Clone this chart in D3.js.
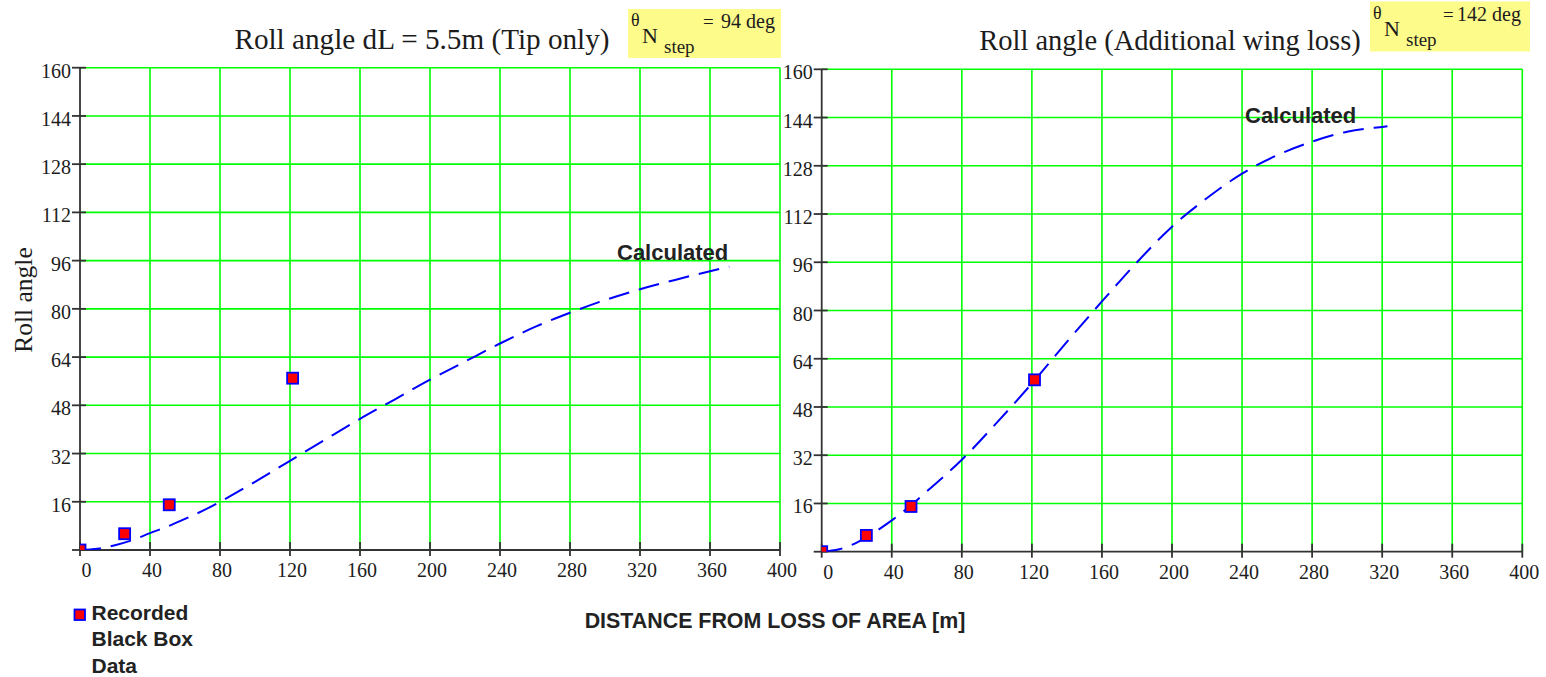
<!DOCTYPE html>
<html>
<head>
<meta charset="utf-8">
<script src="https://cdn.jsdelivr.net/npm/d3@7"></script>
<style>
  html, body { margin: 0; padding: 0; background: #fff; }
  svg { display: block; }
</style>
</head>
<body>
<svg id="chart" width="1546" height="677"></svg>
<script>
// ---------- data ----------
const xTicks = [0, 40, 80, 120, 160, 200, 240, 280, 320, 360, 400];
const yTicks = [16, 32, 48, 64, 80, 96, 112, 128, 144, 160];

// Recorded black box data (distance m, roll angle deg)
const recordedX = [0, 25.5, 51, 121.5];
const recordedY = [0, 5.4, 15, 57];

// Calculated - tip only (dL = 5.5 m)
const tipX = [0, 10, 20, 30, 40, 50, 60, 70, 80, 100, 120, 140, 160, 180, 200, 220, 240, 260, 280, 300, 320, 340, 360, 371];
const tipY = [0, 0.4, 1.6, 3.3, 5.6, 7.8, 10.3, 13, 16, 22.6, 29.6, 36.6, 43.5, 50, 56.5, 62.5, 68.5, 74, 78.7, 82.9, 86.5, 89.6, 92.5, 94];

// Calculated - additional wing loss
const wingX = [0, 10, 20, 30, 40, 51, 60, 80, 100, 120, 140, 160, 180, 200, 220, 240, 260, 280, 300, 320, 323];
const wingY = [0, 0.8, 3, 6.4, 10.4, 15.4, 20, 30.5, 42.8, 55.8, 69.6, 83, 96, 107.8, 117.3, 125.4, 131.5, 136, 139.3, 140.9, 141.1];

const titles = ["Roll angle dL = 5.5m (Tip only)", "Roll angle (Additional wing loss)"];
const thetaValues = ["94 deg", "142 deg"];

// ---------- layout ----------
const svg = d3.select("#chart");
const panels = [
  { x0: 80, x1: 780, y0: 550, y1: 67.7, cx: tipX, cy: tipY, title: titles[0], titleX: 422, titleY: 49,
    box: [628, 9, 153, 49], theta: thetaValues[0], eqX: 703, valX: 721, calcLab: [617, 260] },
  { x0: 821.7, x1: 1522.3, y0: 551.7, y1: 69.3, cx: wingX, cy: wingY, title: titles[1], titleX: 1170, titleY: 50,
    box: [1370, 1.5, 160, 50], theta: thetaValues[1], eqX: 1443, valX: 1457, calcLab: [1245, 123] }
];

const serif = "'Liberation Serif', 'Times New Roman', serif";
const sans = "'Liberation Sans', Arial, sans-serif";
const textCol = "#1c1c1c";

panels.forEach((p, i) => {
  const x = d3.scaleLinear().domain([0, 400]).range([p.x0, p.x1]);
  const y = d3.scaleLinear().domain([0, 160]).range([p.y0, p.y1]);
  const g = svg.append("g");

  const clipId = "clip" + i;
  svg.append("clipPath").attr("id", clipId).append("rect")
    .attr("x", p.x0).attr("y", p.y1).attr("width", p.x1 - p.x0).attr("height", p.y0 - p.y1);

  // grid
  g.selectAll(".vg").data(xTicks.filter(d => d > 0)).join("line")
    .attr("x1", d => x(d)).attr("x2", d => x(d)).attr("y1", p.y0).attr("y2", p.y1)
    .attr("stroke", "#00ff00").attr("stroke-width", 1.6);
  g.selectAll(".hg").data(yTicks).join("line")
    .attr("x1", p.x0).attr("x2", p.x1).attr("y1", d => y(d)).attr("y2", d => y(d))
    .attr("stroke", "#00ff00").attr("stroke-width", 1.6);

  // axes lines
  g.append("line").attr("x1", p.x0).attr("x2", p.x0).attr("y1", p.y1).attr("y2", p.y0)
    .attr("stroke", "#333").attr("stroke-width", 1.8);
  g.append("line").attr("x1", p.x0).attr("x2", p.x1).attr("y1", p.y0).attr("y2", p.y0)
    .attr("stroke", "#333").attr("stroke-width", 1.8);

  // ticks
  g.selectAll(".xt").data(xTicks).join("line")
    .attr("x1", d => x(d)).attr("x2", d => x(d)).attr("y1", p.y0 - 8).attr("y2", p.y0 + 6)
    .attr("stroke", "#333").attr("stroke-width", 1.8);
  g.selectAll(".yt").data([0].concat(yTicks)).join("line")
    .attr("x1", p.x0 - 8).attr("x2", p.x0 + 6).attr("y1", d => y(d)).attr("y2", d => y(d))
    .attr("stroke", "#333").attr("stroke-width", 1.8);

  // tick labels
  g.selectAll(".xl").data(xTicks).join("text")
    .attr("x", d => x(d) + (d === 0 ? 6.5 : 2)).attr("y", p.y0 + 27)
    .attr("text-anchor", "middle").attr("font-family", serif).attr("font-size", 20)
    .attr("fill", textCol).text(d => d);
  g.selectAll(".yl").data(yTicks).join("text")
    .attr("x", p.x0 - 9).attr("y", d => y(d) + 10)
    .attr("text-anchor", "end").attr("font-family", serif).attr("font-size", 20)
    .attr("fill", textCol).text(d => d);

  // calculated curve
  const line = d3.line().x((d, k) => x(p.cx[k])).y((d, k) => y(p.cy[k])).curve(d3.curveMonotoneX);
  g.append("path").datum(p.cy).attr("d", line)
    .attr("fill", "none").attr("stroke", "#0000ff").attr("stroke-width", 2)
    .attr("stroke-dasharray", "21,10").attr("clip-path", `url(#${clipId})`);

  // recorded markers
  g.append("g").attr("clip-path", `url(#${clipId})`)
    .selectAll("rect").data(recordedX).join("rect")
    .attr("x", (d) => x(d) - 5.5).attr("y", (d, k) => y(recordedY[k]) - 5.5)
    .attr("width", 11).attr("height", 11)
    .attr("fill", "#ff0000").attr("stroke", "#0000ff").attr("stroke-width", 1.8);

  // "Calculated" label
  g.append("text").attr("x", p.calcLab[0]).attr("y", p.calcLab[1])
    .attr("font-family", sans).attr("font-weight", "bold").attr("font-size", 22)
    .attr("fill", "#222").text("Calculated");

  // title
  g.append("text").attr("x", p.titleX).attr("y", p.titleY).attr("text-anchor", "middle")
    .attr("font-family", serif).attr("font-size", i === 0 ? 29.2 : 28.5).attr("fill", textCol).text(p.title);

  // yellow theta box
  const [bx, by, bw, bh] = p.box;
  g.append("rect").attr("x", bx).attr("y", by).attr("width", bw).attr("height", bh).attr("fill", "#fdfb8a");
  const t = g.append("text").attr("font-family", serif).attr("fill", textCol);
  t.append("tspan").attr("x", bx + 3).attr("y", by + 17).attr("font-size", 18).text("θ");
  t.append("tspan").attr("x", bx + 14).attr("y", by + 34).attr("font-size", 22).text("N");
  t.append("tspan").attr("x", bx + 36).attr("y", by + 44).attr("font-size", 19).text("step");
  g.append("text").attr("x", p.eqX).attr("y", by + 19)
    .attr("font-family", serif).attr("font-size", 19).attr("fill", textCol).text("=");
  g.append("text").attr("x", p.valX).attr("y", by + 19)
    .attr("font-family", serif).attr("font-size", 20).attr("fill", textCol).text(p.theta);
});

// y axis title
svg.append("text").attr("transform", "translate(31.5,300) rotate(-90)")
  .attr("text-anchor", "middle").attr("font-family", serif).attr("font-size", 25.5)
  .attr("fill", textCol).text("Roll angle");

// x axis title
svg.append("text").attr("x", 775).attr("y", 627.5).attr("text-anchor", "middle")
  .attr("font-family", sans).attr("font-weight", "bold").attr("font-size", 21.4)
  .attr("fill", "#222").text("DISTANCE FROM LOSS OF AREA [m]");

// legend
const legendLines = ["Recorded", "Black Box", "Data"];
svg.append("rect").attr("x", 74.5).attr("y", 609.5).attr("width", 10.5).attr("height", 10.5)
  .attr("fill", "#ff0000").attr("stroke", "#0000ff").attr("stroke-width", 1.8);
svg.append("g").selectAll("text").data(legendLines).join("text")
  .attr("x", 91.5).attr("y", (d, k) => 620 + k * 26.3)
  .attr("font-family", sans).attr("font-weight", "bold").attr("font-size", 21)
  .attr("fill", "#222").text(d => d);
</script>
</body>
</html>
